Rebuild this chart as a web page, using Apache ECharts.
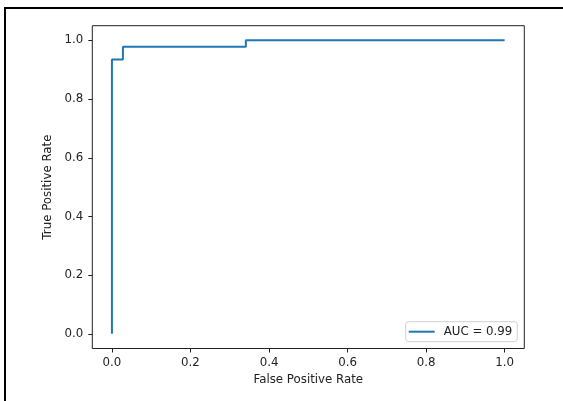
<!DOCTYPE html>
<html>
<head>
<meta charset="utf-8">
<script src="https://cdn.jsdelivr.net/npm/echarts@6/dist/echarts.min.js"></script>
<style>
html,body{margin:0;padding:0;background:#fff;}
#chart{position:absolute;left:0;top:0;width:563px;height:401px;}
#frame{position:absolute;left:4px;top:7px;right:-10px;bottom:-10px;border-top:2px solid #000;border-left:2px solid #000;pointer-events:none;}
</style>
</head>
<body>
<div id="chart"></div>
<div id="frame"></div>
<script>
const fpr = [0, 0, 0.028, 0.028, 0.341, 0.341, 1.0];
const tpr = [0, 0.935, 0.935, 0.978, 0.978, 1.0, 1.0];
const xTicks = [0, 0.2, 0.4, 0.6, 0.8, 1.0];
const yTicks = [0, 0.2, 0.4, 0.6, 0.8, 1.0];
const seriesName = 'AUC = 0.99';
const xLabel = 'False Positive Rate';
const yLabel = 'True Positive Rate';

const font = 'DejaVu Sans';
const txt = '#222';
const chart = echarts.init(document.getElementById('chart'), null, {renderer: 'canvas'});
const axisCommon = {
  type: 'value', min: -0.05, max: 1.05,
  splitLine: {show: false},
  axisLine: {show: false, onZero: false},
  axisTick: {show: true, inside: false, length: 4, lineStyle: {color: '#222', width: 1}},
  axisLabel: {color: txt, fontFamily: font, fontSize: 11.8, formatter: v => v.toFixed(1)},
  nameLocation: 'middle',
  nameTextStyle: {color: txt, fontFamily: font, fontSize: 11.8}
};
chart.setOption({
  animation: false,
  backgroundColor: '#fff',
  grid: {left: 92.3, right: 38.7, top: 25.7, bottom: 52.5, show: true, borderColor: '#222', borderWidth: 1, backgroundColor: 'transparent'},
  xAxis: Object.assign({}, axisCommon, {
    name: xLabel, nameGap: 25.5,
    axisTick: Object.assign({}, axisCommon.axisTick, {customValues: xTicks}),
    axisLabel: Object.assign({}, axisCommon.axisLabel, {customValues: xTicks, margin: 8})
  }),
  yAxis: Object.assign({}, axisCommon, {
    name: yLabel, nameGap: 31,
    axisTick: Object.assign({}, axisCommon.axisTick, {customValues: yTicks}),
    axisLabel: Object.assign({}, axisCommon.axisLabel, {customValues: yTicks, margin: 9})
  }),
  legend: {
    left: 405.7, top: 321.7,
    padding: [4, 5, 4, 3],
    backgroundColor: '#fff', borderColor: '#d0d0d0', borderWidth: 1, borderRadius: 3,
    itemWidth: 26, itemHeight: 2, icon: 'rect',
    textStyle: {color: txt, fontFamily: font, fontSize: 11.8, padding: [0, 0, 0, 4]},
    data: [seriesName]
  },
  series: [{
    name: seriesName, type: 'line', showSymbol: false, symbol: 'none',
    lineStyle: {color: '#1f77b4', width: 2}, itemStyle: {color: '#1f77b4'},
    data: fpr.map((x, i) => [x, tpr[i]])
  }]
});
</script>
</body>
</html>
